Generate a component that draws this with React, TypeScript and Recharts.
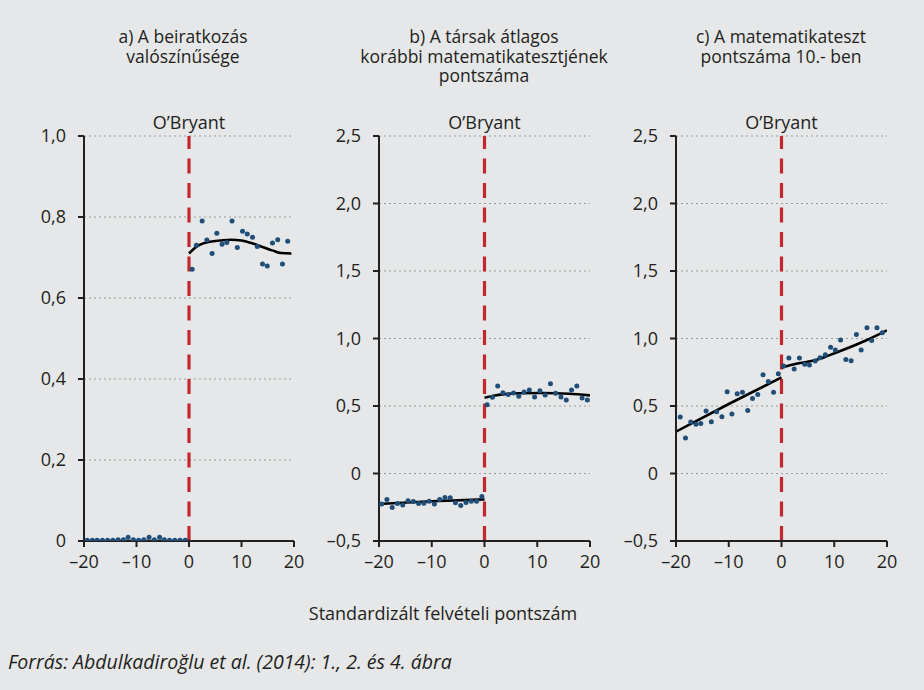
import React from "react";
import {
  ComposedChart, Scatter, Line, XAxis, YAxis, CartesianGrid, ReferenceLine,
} from "recharts";

const C = {
  bg: "#e6e7e8",
  ink: "#231f20",
  red: "#c1272d",
  dot: "#1f4e79",
  grid: "#9a9a9a",
  font: "'Open Sans', 'Noto Sans', sans-serif",
} as const;

// --- a) A beiratkozás valószínűsége
const aLeftX = [-19.4, -18.4, -17.5, -16.5, -15.5, -14.5, -13.5, -12.5, -11.6, -10.6, -9.6, -8.6, -7.6, -6.6, -5.6, -4.7, -3.7, -2.7, -1.7, -0.7];
const aLeftY = [0.002, 0.002, 0.002, 0.002, 0.002, 0.002, 0.003, 0.003, 0.009, 0.003, 0.002, 0.003, 0.009, 0.003, 0.009, 0.003, 0.002, 0.002, 0.002, 0.002];
const aRightX = [0.6, 1.4, 2.5, 3.4, 4.4, 5.3, 6.3, 7.2, 8.2, 9.2, 10.2, 11.1, 12.1, 13.0, 14.0, 14.9, 15.9, 16.9, 17.8, 18.8];
const aRightY = [0.671, 0.73, 0.79, 0.743, 0.71, 0.76, 0.733, 0.737, 0.79, 0.725, 0.765, 0.758, 0.75, 0.727, 0.684, 0.679, 0.736, 0.744, 0.684, 0.74];
const aFitLX = [-20, 0];
const aFitLY = [0, 0];
const aFitRX = [0, 1, 2, 4, 6, 8, 10, 12, 14, 16, 17.5, 19.5];
const aFitRY = [0.71, 0.722, 0.731, 0.739, 0.742, 0.744, 0.742, 0.735, 0.726, 0.717, 0.711, 0.71];
const aTicks = [0, 0.2, 0.4, 0.6, 0.8, 1.0];

// --- b) A társak átlagos korábbi matematikatesztjének pontszáma
const bLeftX = [-19.5, -18.5, -17.5, -16.5, -15.5, -14.5, -13.5, -12.5, -11.5, -10.5, -9.5, -8.5, -7.5, -6.5, -5.5, -4.5, -3.5, -2.5, -1.5, -0.5];
const bLeftY = [-0.226, -0.192, -0.251, -0.222, -0.234, -0.202, -0.207, -0.222, -0.22, -0.205, -0.226, -0.192, -0.177, -0.18, -0.217, -0.237, -0.215, -0.205, -0.205, -0.17];
const bRightX = [0.5, 1.5, 2.5, 3.5, 4.5, 5.5, 6.5, 7.5, 8.5, 9.5, 10.5, 11.5, 12.5, 13.5, 14.5, 15.5, 16.5, 17.5, 18.5, 19.5];
const bRightY = [0.51, 0.564, 0.648, 0.598, 0.586, 0.596, 0.572, 0.603, 0.618, 0.566, 0.613, 0.581, 0.665, 0.594, 0.566, 0.544, 0.618, 0.648, 0.559, 0.544];
const bFitLX = [-20, -10, 0];
const bFitLY = [-0.226, -0.206, -0.192];
const bFitRX = [0, 2, 3.5, 6.5, 11, 16, 20];
const bFitRY = [0.561, 0.578, 0.586, 0.594, 0.596, 0.591, 0.579];

// --- c) A matematikateszt pontszáma 10.- ben
const cLeftX = [-19.2, -18.2, -17.2, -16.2, -15.3, -14.3, -13.3, -12.3, -11.3, -10.3, -9.4, -8.4, -7.4, -6.4, -5.5, -4.5, -3.5, -2.5, -1.5, -0.6];
const cLeftY = [0.419, 0.263, 0.382, 0.364, 0.371, 0.463, 0.384, 0.458, 0.42, 0.606, 0.44, 0.591, 0.601, 0.467, 0.556, 0.586, 0.731, 0.682, 0.601, 0.739];
const cRightX = [0.4, 1.4, 2.4, 3.4, 4.4, 5.3, 6.4, 7.3, 8.3, 9.3, 10.2, 11.2, 12.2, 13.2, 14.2, 15.1, 16.2, 17.1, 18.1, 19.1];
const cRightY = [0.796, 0.855, 0.774, 0.855, 0.81, 0.803, 0.833, 0.857, 0.879, 0.936, 0.914, 0.988, 0.845, 0.835, 1.03, 0.914, 1.079, 0.985, 1.079, 1.042];
const cFitLX = [-20, -10, 0];
const cFitLY = [0.31, 0.515, 0.712];
const cFitRX = [0, 3, 6.5, 9, 12, 16, 20];
const cFitRY = [0.786, 0.815, 0.84, 0.875, 0.92, 0.985, 1.06];

const bcTicks = [-0.5, 0, 0.5, 1.0, 1.5, 2.0, 2.5];
const xTicks = [-20, -10, 0, 10, 20];

const zip = (xs: number[], ys: number[]) => xs.map((x, i) => ({ x, y: ys[i] }));

const fmtY = (v: number) =>
  v === 0 ? "0" : v.toFixed(1).replace(".", ",").replace("-", "\u2013");
const fmtX = (v: number) => String(v).replace("-", "\u2013");

const Dot = (p: any) => <circle cx={p.cx} cy={p.cy} r={2.5} fill={C.dot} />;

interface PanelProps {
  left: number;
  width: number;
  yDomain: [number, number];
  yTicks: number[];
  dots: { x: number; y: number }[][];
  fits: { x: number; y: number }[][];
}

function Panel({ left, width, yDomain, yTicks, dots, fits }: PanelProps) {
  const tick = { fontFamily: C.font, fontSize: 18, fill: C.ink };
  return (
    <div style={{ position: "absolute", left, top: 0 }}>
      <ComposedChart width={width} height={580} margin={{ top: 136, right: 10, bottom: 9, left: 24 }}>
        <CartesianGrid horizontal vertical={false} stroke={C.grid} strokeDasharray="2 3" />
        <XAxis
          type="number" dataKey="x" domain={[-20, 20]} ticks={xTicks}
          tickFormatter={fmtX} tick={tick} height={30} tickMargin={8}
          axisLine={{ stroke: C.ink, strokeWidth: 2 }}
          tickLine={{ stroke: C.ink, strokeWidth: 2 }} tickSize={6}
          allowDataOverflow
        />
        <YAxis
          type="number" dataKey="y" domain={yDomain} ticks={yTicks}
          tickFormatter={fmtY} tick={tick} width={60} tickMargin={12}
          axisLine={{ stroke: C.ink, strokeWidth: 2 }}
          tickLine={{ stroke: C.ink, strokeWidth: 2 }} tickSize={6}
          allowDataOverflow
        />
        <ReferenceLine
          x={0} stroke={C.red} strokeWidth={3.2} strokeDasharray="15 9.5"
          label={{ value: "O\u2019Bryant", position: "top", offset: 7, fill: C.ink, fontSize: 18, fontFamily: C.font }}
        />
        {dots.map((d, i) => (
          <Scatter key={"s" + i} data={d} dataKey="y" shape={Dot} isAnimationActive={false} />
        ))}
        {fits.map((d, i) => (
          <Line
            key={"l" + i} data={d} dataKey="y" type="monotone"
            stroke="#000" strokeWidth={2.6} dot={false} activeDot={false}
            isAnimationActive={false}
          />
        ))}
      </ComposedChart>
    </div>
  );
}

// each title line sits in its own box, 20px apart
function Title({ cx, lines }: { cx: number; lines: string[] }) {
  return (
    <>
      {lines.map((t, i) => (
        <div key={i} style={{
          position: "absolute", left: cx - 160, top: 27 + i * 19.5, width: 320, height: 19.5,
          textAlign: "center", fontFamily: C.font, fontSize: 17.5, lineHeight: "19.5px",
          color: C.ink, whiteSpace: "nowrap",
        }}>{t}</div>
      ))}
    </>
  );
}

export default function App() {
  return (
    <div style={{ position: "absolute", left: 0, top: 0, width: 924, height: 690, background: C.bg, overflow: "hidden" }}>
      <Title cx={183} lines={["a) A beiratkozás", "valószínűsége"]} />
      <Title cx={484} lines={["b) A társak átlagos", "korábbi matematikatesztjének", "pontszáma"]} />
      <Title cx={781} lines={["c) A matematikateszt", "pontszáma 10.- ben"]} />

      <Panel
        left={0} width={304} yDomain={[0, 1]} yTicks={aTicks}
        dots={[zip(aLeftX, aLeftY), zip(aRightX, aRightY)]}
        fits={[zip(aFitLX, aFitLY), zip(aFitRX, aFitRY)]}
      />
      <Panel
        left={295} width={305} yDomain={[-0.5, 2.5]} yTicks={bcTicks}
        dots={[zip(bLeftX, bLeftY), zip(bRightX, bRightY)]}
        fits={[zip(bFitLX, bFitLY), zip(bFitRX, bFitRY)]}
      />
      <Panel
        left={592} width={305} yDomain={[-0.5, 2.5]} yTicks={bcTicks}
        dots={[zip(cLeftX, cLeftY), zip(cRightX, cRightY)]}
        fits={[zip(cFitLX, cFitLY), zip(cFitRX, cFitRY)]}
      />

      <div style={{
        position: "absolute", left: 0, width: 886, top: 600, textAlign: "center",
        fontFamily: C.font, fontSize: 18, lineHeight: "26px", color: C.ink,
      }}>
        Standardizált felvételi pontszám
      </div>
      <div style={{
        position: "absolute", left: 8, top: 649, fontFamily: C.font, fontSize: 19.5,
        fontStyle: "italic", lineHeight: "26px", color: C.ink,
      }}>
        Forrás: Abdulkadiroğlu et al. (2014): 1., 2. és 4. ábra
      </div>
    </div>
  );
}
